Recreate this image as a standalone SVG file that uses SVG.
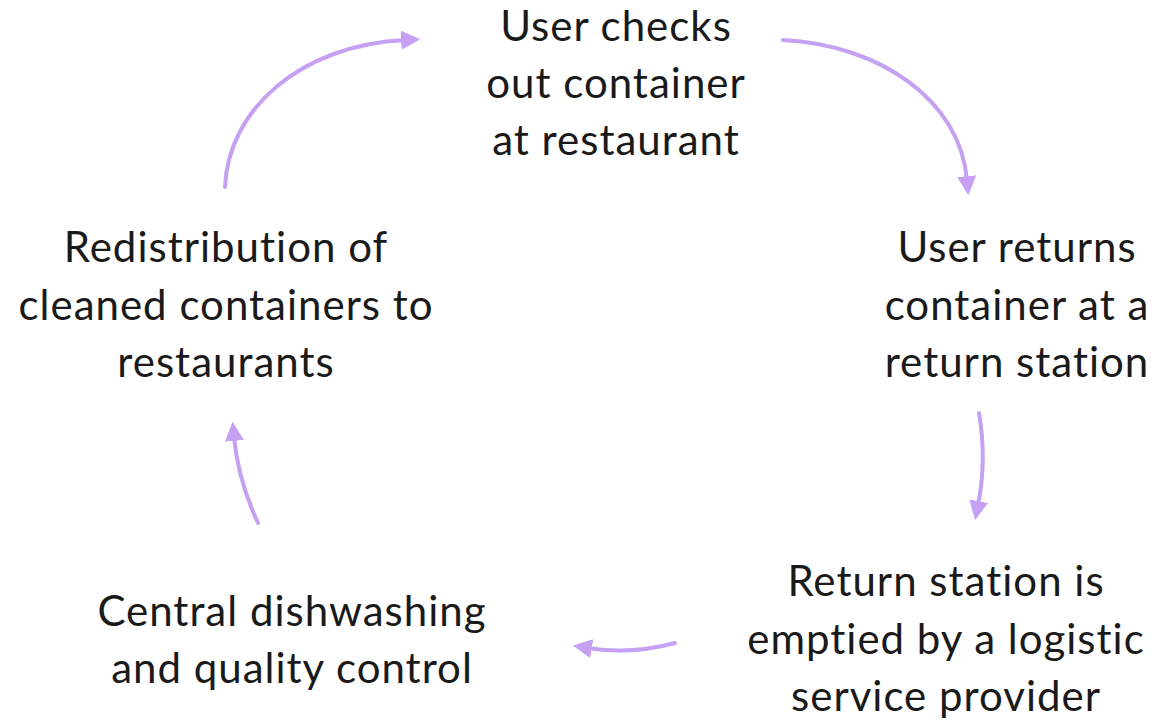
<svg xmlns="http://www.w3.org/2000/svg" width="1155" height="721" viewBox="0 0 1155 721">
<style>
.t{font-family:Lato,"Open Sans","Liberation Sans",sans-serif;font-size:42px;letter-spacing:1px;fill:#1a1a1a;text-anchor:middle}
.c{fill:none;stroke:#C6A0F2;stroke-width:4;stroke-linecap:round}
</style>
<defs>
<marker id="ah" viewBox="0 0 10 10" refX="2" refY="5" markerWidth="4.8" markerHeight="4.8" orient="auto" markerUnits="strokeWidth">
<path d="M0,0 L10,5 L0,10 z" fill="#C6A0F2"/>
</marker>
</defs>
<rect width="1155" height="721" fill="#ffffff"/>
<g id="connectors">
<path class="c" d="M225,187 C228,110 300,45 405,40" marker-end="url(#ah)"/>
<path class="c" d="M783,40 C880,45 960,100 967,180" marker-end="url(#ah)"/>
<path class="c" d="M979,413 Q987,460 978,505" marker-end="url(#ah)"/>
<path class="c" d="M675,643 Q630,655 588,648" marker-end="url(#ah)"/>
<path class="c" d="M258,523 Q238,480 234,437" marker-end="url(#ah)"/>
</g>
<g id="n1"><text class="t"><tspan x="616" y="41">User checks</tspan><tspan x="616" y="98">out container</tspan><tspan x="616" y="155">at restaurant</tspan></text></g>
<g id="n2"><text class="t"><tspan x="1017" y="262">User returns</tspan><tspan x="1017" y="320">container at a</tspan><tspan x="1017" y="377">return station</tspan></text></g>
<g id="n3"><text class="t"><tspan x="946" y="596">Return station is</tspan><tspan x="946" y="654">emptied by a logistic</tspan><tspan x="946" y="711">service provider</tspan></text></g>
<g id="n4"><text class="t"><tspan x="292" y="626">Central dishwashing</tspan><tspan x="292" y="683">and quality control</tspan></text></g>
<g id="n5"><text class="t"><tspan x="226" y="262">Redistribution of</tspan><tspan x="226" y="320">cleaned containers to</tspan><tspan x="226" y="377">restaurants</tspan></text></g>
</svg>
